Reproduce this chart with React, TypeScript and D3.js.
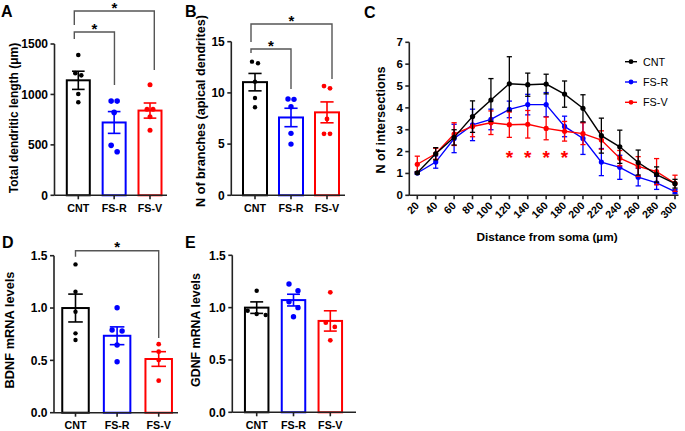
import React from 'react';
import * as d3 from 'd3';

// ---------- shared ----------
const groups = ['CNT', 'FS-R', 'FS-V'];
const groupColors = ['#000000', '#0000ff', '#ff0000'];

// ---------- Panel A: total dendritic length ----------
const lengthMeans = [1140, 722, 840];
const lengthSems = [90, 108, 75];
const lengthCNT = [1391, 1211, 1189, 1004, 922];
const lengthFSR = [934, 934, 822, 495, 432];
const lengthFSV = [1096, 852, 852, 779, 644];
const lengthTicks = [0, 500, 1000, 1500];

// ---------- Panel B: N of branches ----------
const branchMeans = [11.05, 7.6, 8.1];
const branchSems = [0.85, 0.9, 1.02];
const branchCNT = [13.05, 12.9, 11.1, 9.5, 8.6];
const branchFSR = [9.4, 9.37, 8.65, 6.05, 5.0];
const branchFSV = [10.67, 10.45, 7.45, 6.0, 6.0];
const branchTicks = [0, 5, 10, 15];

// ---------- Panel C: Sholl analysis ----------
const distances = [20, 40, 60, 80, 100, 120, 140, 160, 180, 200, 220, 240, 260, 280, 300];
const cntInter = [1.03, 1.9, 2.65, 3.6, 4.36, 5.1, 5.06, 5.09, 4.63, 3.98, 2.73, 2.22, 1.5, 0.95, 0.53];
const cntInterSem = [0.05, 0.28, 0.35, 0.72, 0.98, 1.24, 0.53, 0.45, 0.6, 0.62, 0.8, 0.76, 0.57, 0.35, 0.2];
const fsrInter = [1.02, 1.52, 2.6, 3.22, 3.47, 3.93, 4.15, 4.15, 3.15, 2.6, 1.52, 1.28, 0.83, 0.57, 0.17];
const fsrInterSem = [0.05, 0.28, 0.65, 0.72, 0.47, 0.38, 0.47, 0.55, 0.47, 0.73, 0.62, 0.55, 0.4, 0.3, 0.1];
const fsvInter = [1.42, 1.9, 2.8, 3.15, 3.32, 3.23, 3.25, 3.06, 2.93, 2.82, 2.53, 1.7, 1.32, 1.08, 0.55];
const fsvInterSem = [0.37, 0.25, 0.52, 0.47, 0.54, 0.58, 0.63, 0.52, 0.45, 0.5, 0.42, 0.35, 0.45, 0.6, 0.37];
const sigDistances = [120, 140, 160, 180];
const sigLevel = 1.89;
const interTicks = [0, 1, 2, 3, 4, 5, 6, 7];

// ---------- Panel D: BDNF ----------
const bdnfMeans = [1.0, 0.735, 0.513];
const bdnfSems = [0.133, 0.085, 0.07];
const bdnfCNT = [1.417, 1.156, 0.965, 0.758, 0.694];
const bdnfFSR = [1.003, 0.79, 0.78, 0.647, 0.487];
const bdnfFSV = [0.655, 0.583, 0.503, 0.306];
const mrnaTicks = [0, 0.5, 1.0, 1.5];

// ---------- Panel E: GDNF ----------
const gdnfMeans = [1.0, 1.072, 0.873];
const gdnfSems = [0.055, 0.056, 0.097];
const gdnfCNT = [1.162, 0.97, 0.939, 0.929];
const gdnfFSR = [1.226, 1.162, 1.056, 1.0, 0.913];
const gdnfFSV = [1.146, 0.856, 0.816, 0.688];

const FONT = "'Liberation Sans', Arial, Helvetica, sans-serif";
const AXIS = '#222222';
const BRACKET = '#555555';

type Bracket = { a: number; b: number; y: number; dxA: number; dxB: number; legA: number; legB: number };

type BarLayout = {
  axisX: number;
  axisEnd: number;
  yZero: number;
  yTop: number;
  max: number;
  firstCenter: number;
  lastCenter: number;
  barW: number;
  ticks: number[];
  fmt: (n: number) => string;
  label: string;
  labelX: number;
  labelY: number;
  labelSize: number;
  dotR: number[];
  thresh: number;
  spacing: number;
  brackets: Bracket[];
};

function swarm(vals: number[], y: (v: number) => number, thresh: number, spacing: number): number[] {
  const idx = vals.map((_, i) => i).sort((a, b) => y(vals[a]) - y(vals[b]));
  const offs = new Array(vals.length).fill(0);
  let row: number[] = [];
  const flush = () => {
    row.forEach((id, k) => (offs[id] = (k - (row.length - 1) / 2) * spacing));
    row = [];
  };
  for (const id of idx) {
    if (row.length && y(vals[id]) - y(vals[row[0]]) > thresh) flush();
    row.push(id);
  }
  flush();
  return offs;
}

function BarPanel({ L, means, sems, points }: { L: BarLayout; means: number[]; sems: number[]; points: number[][] }) {
  const y = d3.scaleLinear().domain([0, L.max]).range([L.yZero, L.yTop]);
  const x = d3.scalePoint<string>().domain(groups).range([L.firstCenter, L.lastCenter]);
  const capW = L.barW * 0.55;
  return (
    <g>
      {groups.map((g, i) => (
        <rect
          key={'bar' + g}
          x={(x(g) as number) - L.barW / 2}
          y={y(means[i])}
          width={L.barW}
          height={L.yZero - y(means[i])}
          fill="#ffffff"
          stroke={groupColors[i]}
          strokeWidth={2}
        />
      ))}
      {groups.map((g, i) => {
        const offs = swarm(points[i], y, L.thresh, L.spacing);
        return points[i].map((v, j) => (
          <circle key={'d' + g + j} cx={(x(g) as number) + offs[j]} cy={y(v)} r={L.dotR[i]} fill={groupColors[i]} />
        ));
      })}
      {groups.map((g, i) => {
        const cx = x(g) as number;
        const hi = y(means[i] + sems[i]);
        const lo = y(means[i] - sems[i]);
        return (
          <g key={'e' + g} stroke={groupColors[i]} strokeWidth={1.6}>
            <line x1={cx} x2={cx} y1={hi} y2={lo} />
            <line x1={cx - capW / 2} x2={cx + capW / 2} y1={hi} y2={hi} />
            <line x1={cx - capW / 2} x2={cx + capW / 2} y1={lo} y2={lo} />
          </g>
        );
      })}
      <line x1={L.axisX} x2={L.axisX} y1={L.yZero} y2={y(L.max)} stroke={AXIS} strokeWidth={1.6} />
      <line x1={L.axisX} x2={L.axisEnd} y1={L.yZero} y2={L.yZero} stroke={AXIS} strokeWidth={1.6} />
      {L.ticks.map((t) => (
        <g key={'yt' + t}>
          <line x1={L.axisX - 4} x2={L.axisX} y1={y(t)} y2={y(t)} stroke={AXIS} strokeWidth={1.6} />
          <text x={L.axisX - 6.5} y={y(t) + 4.2} textAnchor="end" fontSize={12} fontWeight="bold" fill="#000">
            {L.fmt(t)}
          </text>
        </g>
      ))}
      {groups.map((g) => (
        <g key={'xt' + g}>
          <line x1={x(g) as number} x2={x(g) as number} y1={L.yZero} y2={L.yZero + 4} stroke={AXIS} strokeWidth={1.6} />
          <text x={x(g) as number} y={L.yZero + 16.5} textAnchor="middle" fontSize={10.7} fontWeight="bold" fill="#000">
            {g}
          </text>
        </g>
      ))}
      <text
        transform={`translate(${L.labelX},${L.labelY}) rotate(-90)`}
        textAnchor="middle"
        fontSize={L.labelSize}
        fontWeight="bold"
        fill="#000"
      >
        {L.label}
      </text>
      {L.brackets.map((b, k) => {
        const xa = (x(groups[b.a]) as number) + b.dxA;
        const xb = (x(groups[b.b]) as number) + b.dxB;
        return (
          <g key={'br' + k}>
            <path d={`M${xa},${b.legA}V${b.y}H${xb}V${b.legB}`} fill="none" stroke={BRACKET} strokeWidth={1.4} />
            <text x={(xa + xb) / 2} y={b.y + 1.5} textAnchor="middle" fontSize={15} fontWeight="bold" fill="#000">
              *
            </text>
          </g>
        );
      })}
    </g>
  );
}

const layoutA: BarLayout = {
  axisX: 54.5, axisEnd: 167, yZero: 195.3, yTop: 44, max: 1500,
  firstCenter: 78.3, lastCenter: 150, barW: 23,
  ticks: lengthTicks, fmt: d3.format('d'),
  label: 'Total dendritic length (μm)', labelX: 17.6, labelY: 118, labelSize: 12,
  dotR: [2.3, 2.8, 2.5], thresh: 7, spacing: 6,
  brackets: [
    { a: 0, b: 1, y: 32, dxA: -4, dxB: 0.3, legA: 39, legB: 85 },
    { a: 0, b: 2, y: 11, dxA: -4, dxB: 4.3, legA: 25, legB: 70 },
  ],
};

const layoutB: BarLayout = {
  axisX: 231.3, axisEnd: 345, yZero: 195.3, yTop: 41.7, max: 15,
  firstCenter: 255, lastCenter: 327, barW: 24,
  ticks: branchTicks, fmt: d3.format('d'),
  label: 'N of branches (apical dendrites)', labelX: 205.3, labelY: 111, labelSize: 12.6,
  dotR: [2.2, 2.7, 2.4], thresh: 7, spacing: 6,
  brackets: [
    { a: 0, b: 1, y: 49, dxA: -4, dxB: 0, legA: 53, legB: 89 },
    { a: 0, b: 2, y: 24, dxA: -4, dxB: 5, legA: 42, legB: 79 },
  ],
};

const layoutD: BarLayout = {
  axisX: 54, axisEnd: 178, yZero: 412.7, yTop: 255.7, max: 1.5,
  firstCenter: 75.5, lastCenter: 158.7, barW: 26.5,
  ticks: mrnaTicks, fmt: d3.format('.1f'),
  label: 'BDNF mRNA levels', labelX: 13.6, labelY: 330, labelSize: 12.8,
  dotR: [2.2, 2.7, 2.4], thresh: 6, spacing: 10,
  brackets: [{ a: 0, b: 2, y: 250.7, dxA: 0, dxB: 0, legA: 256.7, legB: 338 }],
};

const layoutE: BarLayout = {
  axisX: 232.3, axisEnd: 356, yZero: 412.3, yTop: 255.3, max: 1.5,
  firstCenter: 256.7, lastCenter: 330.3, barW: 23.5,
  ticks: mrnaTicks, fmt: d3.format('.1f'),
  label: 'GDNF mRNA levels', labelX: 200, labelY: 330, labelSize: 12.4,
  dotR: [2.2, 2.7, 2.4], thresh: 7, spacing: 9,
  brackets: [],
};

function LinePanel() {
  const x = d3.scaleLinear().domain([20, 300]).range([417.3, 675]);
  const y = d3.scaleLinear().domain([0, 7]).range([195.3, 42.3]);
  const axisX = 409.3;
  const axisEnd = 678.5;
  const series = [
    { name: 'FS-R', vals: fsrInter, sems: fsrInterSem, color: groupColors[1] },
    { name: 'FS-V', vals: fsvInter, sems: fsvInterSem, color: groupColors[2] },
    { name: 'CNT', vals: cntInter, sems: cntInterSem, color: groupColors[0] },
  ];
  const legend = [
    { name: 'CNT', color: groupColors[0] },
    { name: 'FS-R', color: groupColors[1] },
    { name: 'FS-V', color: groupColors[2] },
  ];
  const line = d3
    .line<number>()
    .x((_, i) => x(distances[i]))
    .y((d) => y(d));
  return (
    <g>
      {series.map((s) => (
        <g key={s.name}>
          {s.vals.map((v, i) => {
            const cx = x(distances[i]);
            const hi = y(v + s.sems[i]);
            const lo = y(Math.max(0, v - s.sems[i]));
            return (
              <g key={i} stroke={s.color} strokeWidth={1.3}>
                <line x1={cx} x2={cx} y1={hi} y2={lo} />
                <line x1={cx - 2.6} x2={cx + 2.6} y1={hi} y2={hi} />
                <line x1={cx - 2.6} x2={cx + 2.6} y1={lo} y2={lo} />
              </g>
            );
          })}
          <path d={line(s.vals) || ''} fill="none" stroke={s.color} strokeWidth={1.4} />
          {s.vals.map((v, i) => (
            <circle key={'c' + i} cx={x(distances[i])} cy={y(v)} r={2.6} fill={s.color} />
          ))}
        </g>
      ))}
      {sigDistances.map((d) => (
        <text key={'s' + d} x={x(d)} y={y(sigLevel) + 10.5} textAnchor="middle" fontSize={19} fontWeight="bold" fill="#ff0000">
          *
        </text>
      ))}
      <line x1={axisX} x2={axisX} y1={y(0)} y2={y(7)} stroke={AXIS} strokeWidth={1.6} />
      <line x1={axisX} x2={axisEnd} y1={y(0)} y2={y(0)} stroke={AXIS} strokeWidth={1.6} />
      {interTicks.map((t) => (
        <g key={'yt' + t}>
          <line x1={axisX - 4} x2={axisX} y1={y(t)} y2={y(t)} stroke={AXIS} strokeWidth={1.6} />
          <text x={axisX - 6.5} y={y(t) + 4} textAnchor="end" fontSize={11.5} fontWeight="bold" fill="#000">
            {t}
          </text>
        </g>
      ))}
      {distances.map((d) => (
        <g key={'xt' + d}>
          <line x1={x(d)} x2={x(d)} y1={y(0)} y2={y(0) + 4} stroke={AXIS} strokeWidth={1.6} />
          <text
            transform={`translate(${x(d) + 2.5},${y(0) + 11}) rotate(-45)`}
            textAnchor="end"
            fontSize={10.7}
            fontWeight="bold"
            fill="#000"
          >
            {d}
          </text>
        </g>
      ))}
      <text transform={`translate(384.5,120) rotate(-90)`} textAnchor="middle" fontSize={12.7} fontWeight="bold" fill="#000">
        N of intersections
      </text>
      <text x={547} y={240.5} textAnchor="middle" fontSize={11.8} fontWeight="bold" fill="#000">
        Distance from soma (µm)
      </text>
      {legend.map((l, i) => {
        const ly = 61.7 + i * 20.3;
        return (
          <g key={'lg' + l.name}>
            <line x1={625} x2={637} y1={ly} y2={ly} stroke={l.color} strokeWidth={1.4} />
            <circle cx={631} cy={ly} r={2.4} fill={l.color} />
            <text x={643} y={ly + 3.8} fontSize={10.8} fill="#000">
              {l.name}
            </text>
          </g>
        );
      })}
    </g>
  );
}

export default function App() {
  return (
    <svg
      width={685}
      height={431}
      viewBox="0 0 685 431"
      style={{ position: 'absolute', left: 0, top: 0, background: '#fff' }}
      fontFamily={FONT}
    >
      <rect x={0} y={0} width={685} height={431} fill="#ffffff" />
      <BarPanel L={layoutA} means={lengthMeans} sems={lengthSems} points={[lengthCNT, lengthFSR, lengthFSV]} />
      <BarPanel L={layoutB} means={branchMeans} sems={branchSems} points={[branchCNT, branchFSR, branchFSV]} />
      <LinePanel />
      <BarPanel L={layoutD} means={bdnfMeans} sems={bdnfSems} points={[bdnfCNT, bdnfFSR, bdnfFSV]} />
      <BarPanel L={layoutE} means={gdnfMeans} sems={gdnfSems} points={[gdnfCNT, gdnfFSR, gdnfFSV]} />
      <g fontSize={16} fontWeight="bold" fill="#000">
        <text x={1} y={17}>A</text>
        <text x={185} y={17}>B</text>
        <text x={364} y={18}>C</text>
        <text x={2} y={248}>D</text>
        <text x={185} y={248}>E</text>
      </g>
    </svg>
  );
}
